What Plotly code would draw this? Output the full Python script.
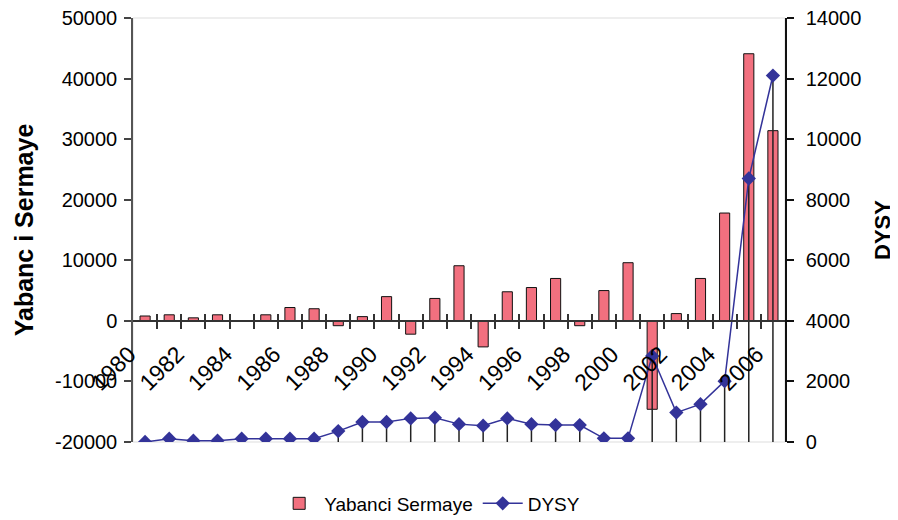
import plotly.graph_objects as go

years = list(range(1980, 2007))
yabanci_sermaye = [800, 1000, 500, 1000, 0, 1000, 2200, 2000, -800, 700, 4000, -2200,
                   3700, 9100, -4300, 4800, 5500, 7000, -800, 5000, 9600, -14600,
                   1200, 7000, 17800, 44100, 31400]
dysy = [0, 110, 45, 45, 110, 110, 110, 110, 360, 660, 660, 780,
        800, 590, 540, 780, 590, 560, 560, 120, 120, 2840,
        970, 1250, 2010, 8700, 12100]
label_years = list(range(1980, 2007, 2))
left_ticks = list(range(-20000, 50001, 10000))
right_ticks = list(range(0, 14001, 2000))

FONT = "Liberation Sans, Arial, sans-serif"
x_range = [years[0] - 0.5, years[-1] + 0.5]
boundaries = [y + 0.5 for y in years[:-1]]
y_range = [left_ticks[0], left_ticks[-1]]
zero_pos = (0 - y_range[0]) / (y_range[1] - y_range[0])

fig = go.Figure()
fig.add_trace(go.Bar(
    x=years, y=yabanci_sermaye, name="Yabanci Sermaye", width=0.42,
    marker=dict(color="#F2707F", line=dict(color="#111111", width=1)),
    xaxis="x", yaxis="y"))
fig.add_trace(go.Scatter(
    x=years, y=dysy, name="DYSY", mode="lines+markers",
    line=dict(color="#333399", width=1.5),
    marker=dict(symbol="diamond", size=11, color="#333399"),
    error_y=dict(type="data", symmetric=False, array=[0] * len(dysy),
                 arrayminus=dysy, width=0, color="#222222", thickness=1.5),
    xaxis="x", yaxis="y2"))
# helper trace so the crossing tick axis is drawn
fig.add_trace(go.Scatter(x=[None], y=[None], xaxis="x2", yaxis="y",
                         showlegend=False, hoverinfo="skip"))

fig.update_layout(
    width=890, height=512,
    margin=dict(l=125, r=113, t=10, b=78, autoexpand=False),
    paper_bgcolor="white", plot_bgcolor="white",
    font=dict(family=FONT, size=20, color="black"),
    bargap=0.58,
    showlegend=True,
    legend=dict(orientation="h", x=0.455, xanchor="center", y=-0.145, yanchor="middle",
                font=dict(family=FONT, size=19, color="black"), itemwidth=40,
                borderwidth=0, bgcolor="rgba(0,0,0,0)"),
    xaxis=dict(range=x_range, tickmode="array", tickvals=label_years,
               ticktext=[str(y) for y in label_years], tickangle=-45, ticks="",
               ticklabelstandoff=10, ticklabelshift=-16, automargin=False,
               ticklabeloverflow="allow",
               showline=True, linecolor="#333333", linewidth=1.5,
               anchor="free", position=zero_pos, showgrid=False, zeroline=False,
               tickfont=dict(family=FONT, size=23, color="black"),
               minor=dict(tickmode="array", tickvals=boundaries, ticks="outside",
                          ticklen=7, tickcolor="#333333", tickwidth=1.5, showgrid=False)),
    xaxis2=dict(range=x_range, overlaying="x", anchor="free", position=zero_pos,
                tickmode="array", tickvals=boundaries, ticks="inside", ticklen=7,
                tickcolor="#333333", tickwidth=1.5, showticklabels=False,
                showline=False, showgrid=False, zeroline=False, automargin=False),
    yaxis=dict(range=y_range, tickmode="array", tickvals=left_ticks,
               ticktext=[str(v) for v in left_ticks],
               ticks="outside", ticklen=7, tickcolor="#444444", tickwidth=1.5,
               ticklabelstandoff=3, automargin=False, ticklabeloverflow="allow",
               showline=True, linecolor="#555555", linewidth=1.5,
               showgrid=False, zeroline=False,
               tickfont=dict(family=FONT, size=20, color="black"),
               title=dict(text="<b>Yabanc i Sermaye</b>", standoff=14,
                          font=dict(family=FONT, size=25, color="black"))),
    yaxis2=dict(range=[right_ticks[0], right_ticks[-1]], overlaying="y", side="right",
                tickmode="array", tickvals=right_ticks,
                ticktext=[str(v) for v in right_ticks],
                ticks="outside", ticklen=7, tickcolor="#111111", tickwidth=1.5,
                ticklabelstandoff=8, automargin=False, ticklabeloverflow="allow",
                showline=True, linecolor="#111111", linewidth=1.5,
                showgrid=False, zeroline=False,
                tickfont=dict(family=FONT, size=20, color="black"),
                title=dict(text="<b>DYSY</b>", standoff=14,
                           font=dict(family=FONT, size=22, color="black"))),
    shapes=[dict(type="rect", xref="paper", yref="paper", x0=0, x1=1, y0=0, y1=1,
                 line=dict(color="#DDDDDD", width=1), layer="below")],
)

fig.write_html("out.html")
